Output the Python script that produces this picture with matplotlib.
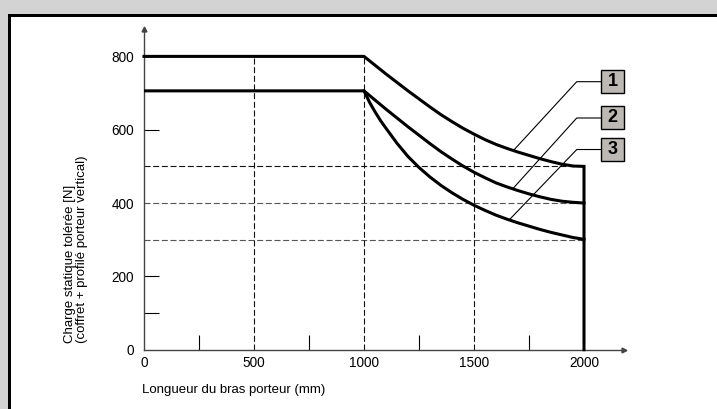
import numpy as np
import matplotlib
matplotlib.use("Agg")
import matplotlib.pyplot as plt
from matplotlib.patches import Rectangle
from matplotlib.ticker import FixedLocator

plt.rcParams["font.family"] = ["Liberation Sans", "DejaVu Sans"]

# flat part of the limits (0 - 1000 mm)
flat_x = [0, 1000]
top_level = 800
low_level = 706

# curve 1 (upper limit)
c1_x = [1000, 1050, 1100, 1150, 1200, 1250, 1300, 1350, 1400, 1450, 1500,
        1550, 1600, 1650, 1700, 1750, 1800, 1850, 1900, 1950, 2000]
c1_y = [800, 776, 752, 729, 706, 684, 662, 641, 622, 604, 588,
        573, 560, 549, 539, 530, 521, 513, 506, 501, 500]

# curve 2
c2_x = [1000, 1050, 1100, 1150, 1200, 1250, 1300, 1350, 1400, 1450, 1500,
        1550, 1600, 1650, 1700, 1750, 1800, 1850, 1900, 1950, 2000]
c2_y = [706, 681, 656, 632, 608, 585, 562, 540, 520, 501, 484,
        469, 455, 444, 434, 425, 417, 410, 405, 402, 400]

# curve 3
c3_x = [1000, 1025, 1050, 1075, 1100, 1150, 1200, 1250, 1300, 1350, 1400, 1450,
        1500, 1550, 1600, 1650, 1700, 1750, 1800, 1850, 1900, 1950, 2000]
c3_y = [706, 675, 649, 625, 604, 563, 527, 497, 471, 448, 428, 410,
        394, 380, 367, 356, 346, 337, 328, 320, 313, 306, 301]

max_length = 2000

# dashed reference lines
h_refs = [500, 400, 300]
h_colors = ["#111111", "#555555", "#555555"]
v_refs = [500, 1000, 1500]
v_tops = [800, 800, 588]

x_ticks = [0, 500, 1000, 1500, 2000]
y_ticks = [0, 200, 400, 600, 800]
x_small = [250, 750, 1250, 1750]
y_small = [100, 200, 600]

labels = ["1", "2", "3"]
label_on_x = [1679, 1676, 1660]     # where each leader touches its curve
label_y = [731, 632, 546]           # label box centres
knee_x = 1967
box_x = 2130

fig = plt.figure(figsize=(7.17, 4.09), dpi=100, facecolor="#d3d3d3")
W, H = 717, 409

# framed white panel
fig.add_artist(Rectangle((8 / W, 0), 1, 1 - 13.5 / H, transform=fig.transFigure,
                         facecolor="black", edgecolor="none", zorder=0))
fig.add_artist(Rectangle((11 / W, 0), 1, 1 - 16.7 / H, transform=fig.transFigure,
                         facecolor="white", edgecolor="none", zorder=0))

ax = fig.add_axes([144 / W, 59.3 / H, 479.6 / W, 320.8 / H])
ax.set_facecolor("none")
ax.set_xlim(0, 2180)
ax.set_ylim(0, 875)

for s in ["top", "right"]:
    ax.spines[s].set_visible(False)
for s in ["left", "bottom"]:
    ax.spines[s].set_color("#444444")
    ax.spines[s].set_linewidth(1.0)

ax.plot([2180], [0], marker=">", ms=3.5, color="#444444", clip_on=False)
ax.plot([0], [875], marker="^", ms=3.5, color="#444444", clip_on=False)

dash = (0, (5.4, 2.4))
for yv, col in zip(h_refs, h_colors):
    ax.plot([0, max_length], [yv, yv], color=col, lw=0.8, ls=dash, zorder=1)
for xv, top in zip(v_refs, v_tops):
    ax.plot([xv, xv], [0, top], color="#111111", lw=0.8, ls=dash, zorder=1)

lw = 2.2
ax.plot(flat_x + c1_x + [max_length], [top_level, top_level] + c1_y + [0],
        color="black", lw=lw, solid_joinstyle="miter", zorder=3, clip_on=False)
ax.plot(flat_x + c2_x, [low_level, low_level] + c2_y,
        color="black", lw=lw, zorder=3)
ax.plot(c3_x, c3_y, color="black", lw=lw, zorder=3)

# leaders and numbered boxes
curves = [(c1_x, c1_y), (c2_x, c2_y), (c3_x, c3_y)]
bw, bh = 53, 62.7
for lab, (cx, cy), lx, ly in zip(labels, curves, label_on_x, label_y):
    py = np.interp(lx, cx, cy)
    ax.plot([lx, knee_x, box_x - bw], [py, ly, ly],
            color="black", lw=0.8, zorder=4, clip_on=False)
    ax.add_patch(Rectangle((box_x - bw, ly - bh / 2), 2 * bw, bh,
                           facecolor="#bcb9b5", edgecolor="black", lw=1.0,
                           zorder=5, clip_on=False))
    ax.text(box_x, ly, lab, ha="center", va="center", fontsize=13,
            fontweight="bold", zorder=6)

ax.xaxis.set_major_locator(FixedLocator(x_ticks))
ax.yaxis.set_major_locator(FixedLocator(y_ticks))
ax.xaxis.set_minor_locator(FixedLocator(x_small))
ax.yaxis.set_minor_locator(FixedLocator(y_small))
ax.xaxis.remove_overlapping_locs = False
ax.yaxis.remove_overlapping_locs = False
ax.tick_params(which="major", length=0, labelsize=9.8)
ax.tick_params(axis="y", which="major", pad=7.2)
ax.tick_params(axis="x", which="major", pad=4.5)
ax.tick_params(which="minor", direction="in", length=10.8, width=0.8, color="black")

fig.text(142 / W, 1 - 390 / H, "Longueur du bras porteur (mm)", ha="left", va="center",
         fontsize=9.5)
fig.text(76 / W, 1 - 343 / H,
         "Charge statique tolérée [N]\n(coffret + profilé porteur vertical)",
         rotation=90, ha="center", va="bottom", multialignment="left",
         fontsize=9.5, linespacing=0.95)

fig.savefig("out.png", dpi=100, facecolor=fig.get_facecolor())
